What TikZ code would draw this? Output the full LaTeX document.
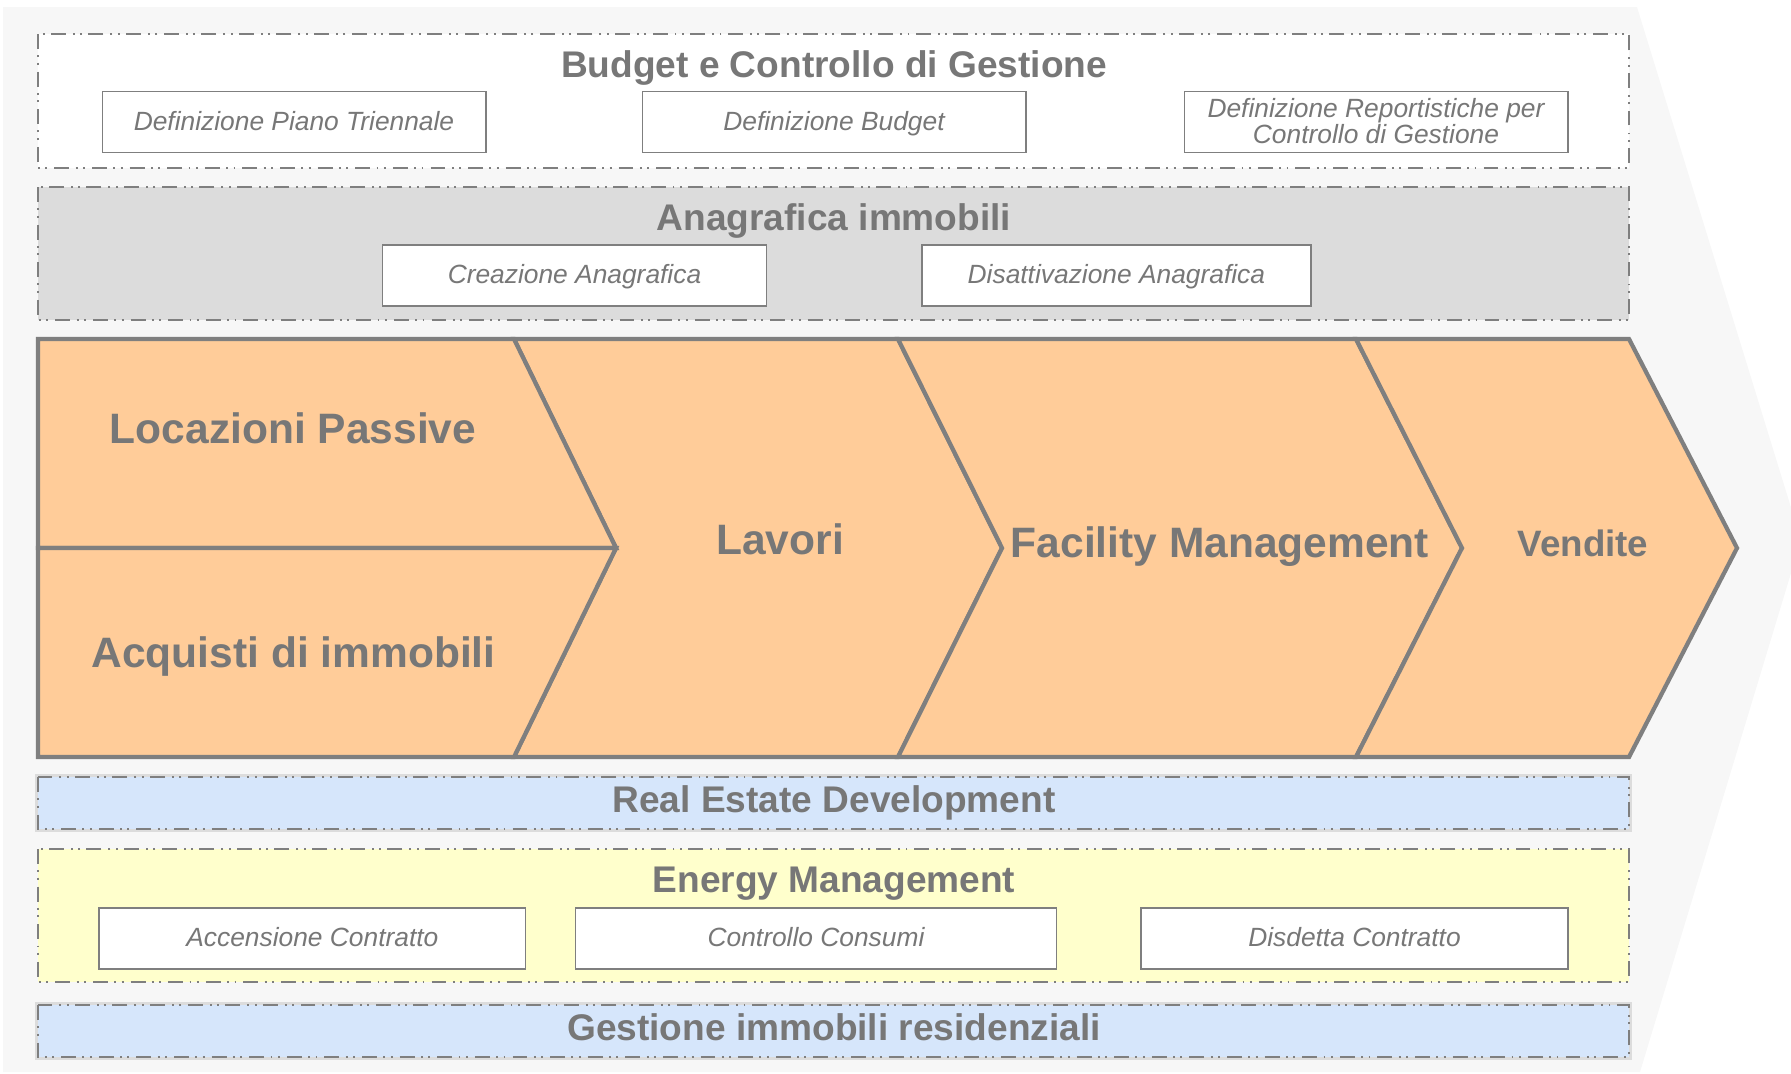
\documentclass[tikz,border=0pt]{standalone}
\usepackage{fontspec}
\setmainfont{Liberation Sans}
\usetikzlibrary{positioning}

\definecolor{txtgray}{HTML}{777777}
\definecolor{linegray}{HTML}{7F7F7F}
\definecolor{pagegray}{HTML}{F7F7F7}
\definecolor{anagray}{HTML}{DCDCDC}
\definecolor{barblue}{HTML}{D6E6FB}
\definecolor{baryellow}{HTML}{FFFFCC}
\definecolor{chevpeach}{HTML}{FFCC99}

\begin{document}
\begin{tikzpicture}[
            x=0.2mm, y=-0.2mm,
            band/.style={draw=linegray, line width=1pt, dash pattern=on 8.5pt off 3.6pt on 1.1pt off 3.1pt on 1.1pt off 4pt},
            blueband/.style={band, fill=barblue, preaction={draw=anagray, line width=3pt, solid}},
            bandtitle/.style={anchor=base, text=txtgray, font=\fontsize{21.1}{24}\selectfont\bfseries, inner sep=0pt},
            taskbox/.style={draw=linegray, line width=0.85pt, fill=white, minimum height=12.2mm, inner sep=0pt, align=center, text=txtgray, text height=9.3pt, text depth=0pt, font=\fontsize{15}{14.8}\selectfont\itshape},
            stage/.style={fill=chevpeach, draw=linegray, line width=2.4pt, line join=miter},
            stagelabel/.style={anchor=base, text=txtgray, font=\fontsize{24.2}{28}\selectfont\bfseries, inner sep=0pt}
        ]

        % Page background
        \clip (0,0) rectangle (1791,1073);
        \fill[pagegray] (3,7) -- (1637,7) -- (1801,540) -- (1640,1072) -- (3,1072) -- cycle;

        % Budget e Controllo di Gestione
        \draw[band, fill=white] (38,34) rectangle (1629,168);
        \node[bandtitle] (budget) at (834,77) {Budget e Controllo di Gestione};
        \node[taskbox, minimum width=76.7mm] (piano) at (294,122) {Definizione Piano Triennale};
        \node[taskbox, minimum width=76.7mm] (defbudget) at (834,122) {Definizione Budget};
        \node[taskbox, minimum width=76.7mm, text height=24.1pt] (report) at (1376,122) {Definizione Reportistiche per\\Controllo di Gestione};

        % Anagrafica immobili
        \draw[band, fill=anagray] (38,187) rectangle (1629,320);
        \node[bandtitle] (anagrafica) at (834,230) {Anagrafica immobili};
        \node[taskbox, minimum width=76.8mm] (creazione) at (574.5,275.5) {Creazione Anagrafica};
        \node[taskbox, minimum width=77.8mm] (disattiva) at (1116.4,275.5) {Disattivazione Anagrafica};

        % Value chain
        \draw[stage] (514,339) -- (898,339) -- (1002,548) -- (898,757) -- (514,757) -- (616,548) -- cycle;
        \draw[stage] (898,339) -- (1356,339) -- (1462,548) -- (1356,757) -- (898,757) -- (1002,548) -- cycle;
        \draw[stage] (1356,339) -- (1629,339) -- (1737,548) -- (1629,757) -- (1356,757) -- (1462,548) -- cycle;
        \draw[stage] (38,339) -- (514,339) -- (616,548) -- (38,548) -- cycle;
        \draw[stage] (38,548) -- (616,548) -- (514,757) -- (38,757) -- cycle;
        \node[stagelabel] (locazioni) at (293,443) {Locazioni Passive};
        \node[stagelabel] (acquisti) at (293.5,667) {Acquisti di immobili};
        \node[stagelabel] (lavori) at (780,554) {Lavori};
        \node[stagelabel] (facility) at (1220,557) {Facility Management};
        \node[stagelabel, font=\fontsize{20.9}{24}\selectfont\bfseries] (vendite) at (1583,556) {Vendite};

        % Real Estate Development
        \draw[blueband] (38,777) rectangle (1629,829);
        \node[bandtitle] (realestate) at (834,812.7) {Real Estate Development};

        % Energy Management
        \draw[band, fill=baryellow] (38,849) rectangle (1629,982);
        \node[bandtitle] (energy) at (834,892) {Energy Management};
        \node[taskbox, minimum width=85.3mm] (accensione) at (312.4,938.5) {Accensione Contratto};
        \node[taskbox, minimum width=96.2mm] (consumi) at (816,938.5) {Controllo Consumi};
        \node[taskbox, minimum width=85.4mm] (disdetta) at (1354.5,938.5) {Disdetta Contratto};

        % Gestione immobili residenziali
        \draw[blueband] (38,1005) rectangle (1629,1057);
        \node[bandtitle] (residenziali) at (834,1040) {Gestione immobili residenziali};
    \end{tikzpicture}
\end{document}
